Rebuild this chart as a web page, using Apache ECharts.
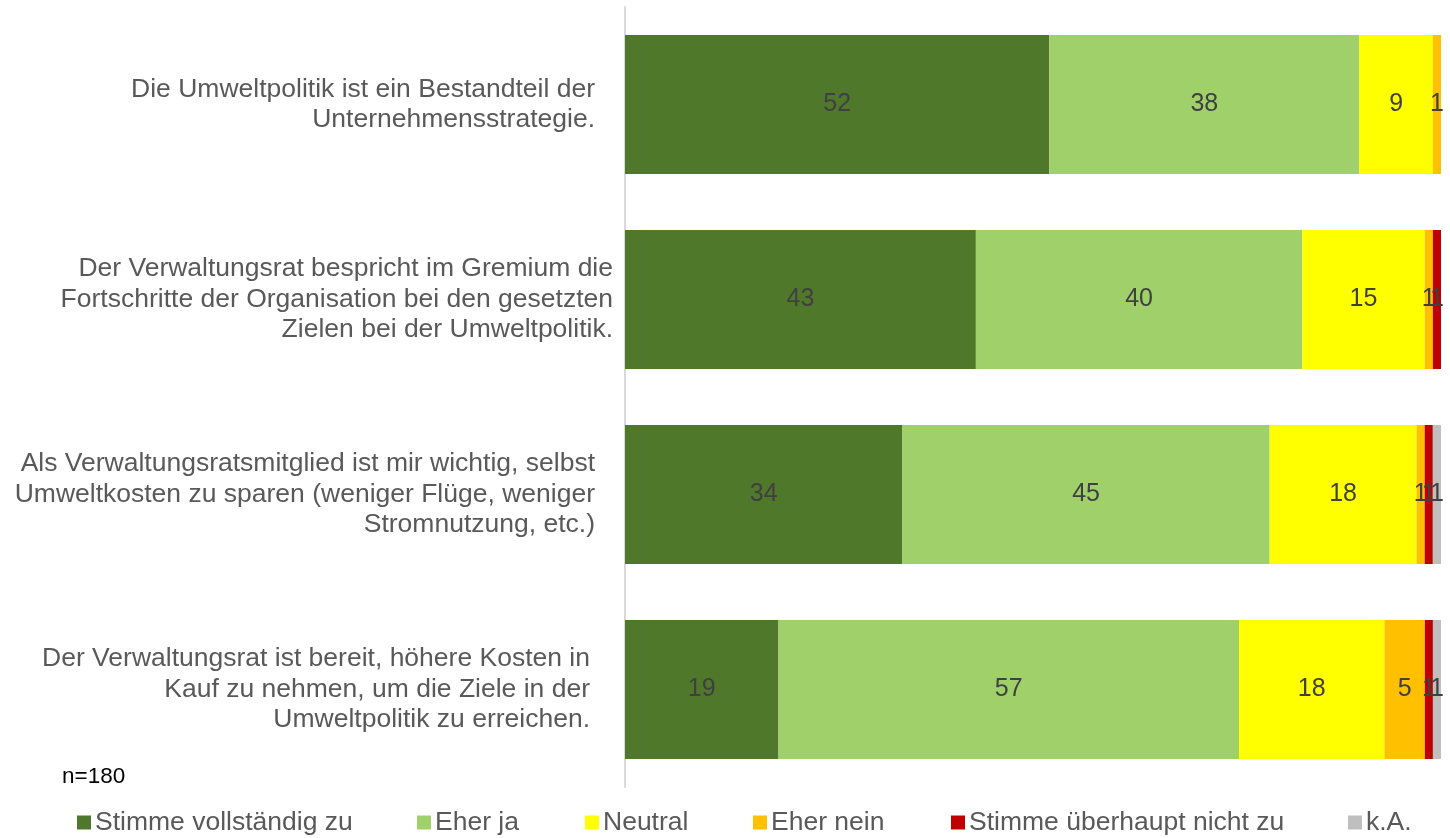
<!DOCTYPE html>
<html>
<head>
<meta charset="utf-8">
<script src="https://cdn.jsdelivr.net/npm/echarts@6/dist/echarts.min.js"></script>
<style>
  html, body { margin: 0; padding: 0; background: #fff; }
  #chart { width: 1450px; height: 838px; }
</style>
</head>
<body>
<div id="chart"></div>
<script>
// statements (top to bottom)
const categories = [
  'Die Umweltpolitik ist ein Bestandteil der\nUnternehmensstrategie.',
  'Der Verwaltungsrat bespricht im Gremium die\nFortschritte der Organisation bei den gesetzten\nZielen bei der Umweltpolitik.',
  'Als Verwaltungsratsmitglied ist mir wichtig, selbst\nUmweltkosten zu sparen (weniger Flüge, weniger\nStromnutzung, etc.)',
  'Der Verwaltungsrat ist bereit, höhere Kosten in\nKauf zu nehmen, um die Ziele in der\nUmweltpolitik zu erreichen.'
]

const seriesNames = ['Stimme vollständig zu', 'Eher ja', 'Neutral', 'Eher nein', 'Stimme überhaupt nicht zu', 'k.A.']

// percent answers per statement
const vollstaendig = [52, 43, 34, 19]
const eherJa = [38, 40, 45, 57]
const neutral = [9, 15, 18, 18]
const eherNein = [1, 1, 1, 5]
const ueberhauptNicht = [0, 1, 1, 1]
const keineAngabe = [0, 0, 1, 1]

const sampleNote = 'n=180'

const values = [vollstaendig, eherJa, neutral, eherNein, ueberhauptNicht, keineAngabe]
const colors = ['#50782a', '#a0d06a', '#ffff00', '#ffc000', '#c00000', '#bfbfbf']
const FONT = 'Liberation Sans, Arial, sans-serif'

// 100% stacked: every row is scaled to its own sum
const rowSums = categories.map((c, i) => values.reduce((s, arr) => s + arr[i], 0))

const labelPad = [18, 0, 18, 23]
const legendLeft = [77, 417, 585, 753, 951, 1348]

const chart = echarts.init(document.getElementById('chart'))

const series = seriesNames.map((name, k) => ({
  name: name,
  type: 'bar',
  stack: 'total',
  barCategoryGap: '28.7%',
  itemStyle: { color: colors[k] },
  label: {
    show: true,
    position: 'inside',
    color: '#404040',
    fontSize: 25,
    fontFamily: FONT,
    formatter: p => (values[k][p.dataIndex] ? String(values[k][p.dataIndex]) : '')
  },
  emphasis: { disabled: true },
  data: values[k].map((v, i) => (v / rowSums[i]) * 100)
}))

chart.setOption({
  animation: false,
  grid: { left: 625, right: 9, top: 7, bottom: 51, containLabel: false },
  xAxis: {
    type: 'value',
    min: 0,
    max: 100,
    show: false
  },
  yAxis: {
    type: 'category',
    inverse: true,
    data: categories.map((c, i) => ({
      value: c,
      textStyle: { padding: [0, labelPad[i], 0, 0] }
    })),
    axisLine: { show: true, lineStyle: { color: '#d9d9d9', width: 2 } },
    axisTick: { show: false },
    axisLabel: {
      margin: 12,
      align: 'right',
      color: '#595959',
      fontSize: 26.5,
      lineHeight: 30.5,
      fontFamily: FONT
    }
  },
  legend: seriesNames.map((name, k) => ({
    data: [name],
    left: legendLeft[k],
    top: 809,
    icon: 'rect',
    itemWidth: 14,
    itemHeight: 14,
    itemGap: 0,
    padding: 0,
    selectedMode: false,
    textStyle: {
      color: '#595959',
      fontSize: 26.5,
      padding: [0, 0, 0, -1],
      fontFamily: FONT
    }
  })),
  graphic: [{
    type: 'text',
    left: 62,
    top: 765,
    style: {
      text: sampleNote,
      fill: '#000',
      fontSize: 22.5,
      fontFamily: FONT
    }
  }],
  series: series
})
</script>
</body>
</html>
